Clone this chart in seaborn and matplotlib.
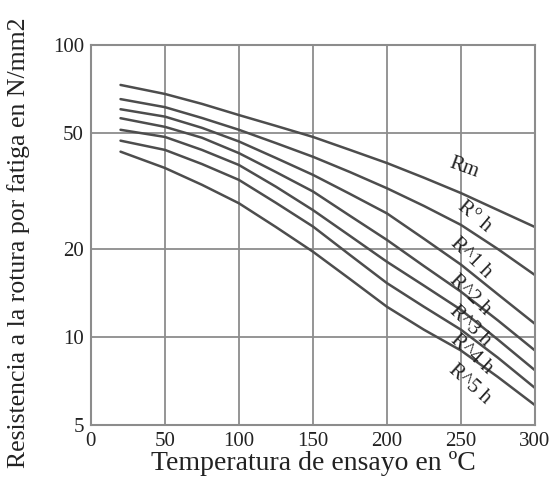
import numpy as np
import pandas as pd
import matplotlib
matplotlib.use("Agg")
import matplotlib.pyplot as plt
import seaborn as sns
from matplotlib.ticker import FixedLocator, NullLocator

temps = [20, 50, 75, 100, 125, 150, 175, 200, 225, 250, 275, 300]
curve_names = ["Rm", "R° h", "R^1 h", "R^2 h", "R^3 h", "R^4 h", "R^5 h"]
rm  = [72.9, 67.9, 62.8, 57.5, 52.8, 48.4, 43.7, 39.4, 35.1, 31.1, 27.2, 23.8]
r0h = [65.2, 61.2, 56.2, 51.2, 46.1, 41.4, 36.7, 32.3, 28.1, 24.2, 20.0, 16.3]
r1h = [60.2, 56.8, 52.0, 46.7, 41.0, 35.9, 30.9, 26.5, 21.7, 17.7, 14.0, 11.1]
r2h = [56.1, 52.4, 48.1, 42.6, 36.7, 31.5, 26.0, 21.5, 17.5, 14.3, 11.4, 9.0]
r3h = [51.2, 48.4, 43.7, 38.8, 32.7, 27.2, 22.2, 18.1, 15.0, 12.4, 9.8, 7.7]
r4h = [47.0, 43.7, 39.1, 34.5, 28.8, 23.9, 19.1, 15.3, 12.7, 10.6, 8.5, 6.7]
r5h = [43.1, 37.9, 33.2, 28.7, 23.8, 19.6, 15.8, 12.7, 10.6, 9.0, 7.3, 5.85]

x_ticks = [0, 50, 100, 150, 200, 250, 300]
y_ticks = [5, 10, 20, 50, 100]
y_tick_labels = ["5", "10", "20", "50", "100"]

label_x = [252, 259, 257, 256, 256, 257, 256]
label_y = [38.0, 25.8, 18.6, 13.9, 10.9, 8.7, 6.9]
label_rot = [-20, -40, -44, -44, -44, -42, -42]

series = [rm, r0h, r1h, r2h, r3h, r4h, r5h]
rows = []
for name, vals in zip(curve_names, series):
    for t, v in zip(temps, vals):
        rows.append({"temp": t, "value": v, "curve": name})
df = pd.DataFrame(rows)

sns.set_style("white")
plt.rcParams["font.family"] = ["Liberation Serif", "DejaVu Serif"]

fig = plt.figure(figsize=(5.51, 4.87), dpi=100)
ax = fig.add_axes([0.165, 0.127, 0.806, 0.781])

line_color = "#4d4d4d"
sns.lineplot(data=df, x="temp", y="value", hue="curve", hue_order=curve_names,
             palette=[line_color] * len(curve_names), linewidth=1.8,
             legend=False, ax=ax)

ax.set_yscale("log")
ax.set_xlim(0, 300)
ax.set_ylim(5, 100)
ax.xaxis.set_major_locator(FixedLocator(x_ticks))
ax.yaxis.set_major_locator(FixedLocator(y_ticks))
ax.yaxis.set_minor_locator(NullLocator())
ax.set_yticklabels(y_tick_labels)
ax.set_xticklabels([str(t) for t in x_ticks])

grid_color = "#8c8c8c"
ax.grid(True, which="major", color=grid_color, linewidth=1.3)
for s in ax.spines.values():
    s.set_color(grid_color)
    s.set_linewidth(1.5)
ax.tick_params(axis="both", labelsize=15, colors="#222222", length=4,
               width=1.2, pad=1)
ax.tick_params(axis="x", length=0, pad=5)
ax.tick_params(axis="y", color=grid_color)

for name, lx, ly, rot in zip(curve_names, label_x, label_y, label_rot):
    ax.text(lx, ly, name, rotation=rot, ha="center", va="center",
            fontsize=15, color="#222222", rotation_mode="anchor")

ax.set_xlabel("Temperatura de ensayo en ºC", fontsize=20, color="#222222")
ax.set_ylabel("Resistencia a la rotura por fatiga en N/mm2", fontsize=18.5,
              color="#222222")
ax.xaxis.set_label_coords(0.5, -0.068)
ax.yaxis.set_label_coords(-0.137, 0.48)

fig.savefig("out.png", dpi=100)
